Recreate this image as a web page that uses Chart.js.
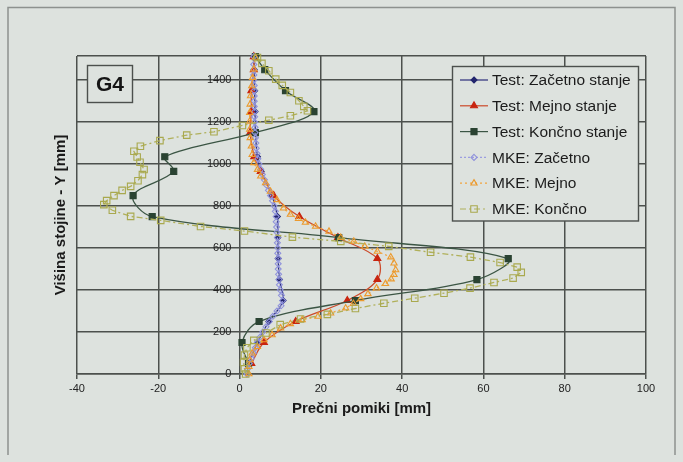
<!DOCTYPE html>
<html>
<head>
<meta charset="utf-8">
<script src="https://cdn.jsdelivr.net/npm/chart.js@4.4.1/dist/chart.umd.min.js"></script>
<style>
  body { margin: 0; background: #dde2de; }
  #okvir { position: relative; width: 683px; height: 462px; }
</style>
</head>
<body>
<div id="okvir"><canvas id="graf" width="683" height="462"></canvas></div>
<script>
// visine merilnih tock [mm]
var testVisine = [50, 150, 250, 350, 450, 550, 650, 750, 850, 965, 1035, 1150, 1250, 1350, 1450, 1512];
var testZacetno = [2.3, 4.4, 7.2, 10.7, 9.8, 9.5, 9.4, 9.3, 8.0, 5.3, 4.4, 3.9, 3.8, 3.7, 3.6, 3.5];
var testMejno = [2.9, 6.0, 13.8, 26.5, 33.9, 33.9, 24.2, 14.7, 8.4, 5.2, 3.6, 2.6, 2.9, 2.9, 3.5, 3.5];
var testKoncno = [2.2, 0.6, 4.8, 28.5, 58.4, 66.1, 24.4, -21.5, -26.2, -16.2, -18.4, 3.9, 18.3, 11.3, 6.2, 3.9];

// MKE - racunski rezultati
var mkeZacetnoY = [0, 25, 50, 75, 100, 125, 150, 175, 200, 225, 250, 275, 300, 325, 350, 375, 400, 425, 450, 475, 500,
  525, 550, 575, 600, 625, 650, 675, 700, 725, 750, 775, 800, 825, 850, 875, 900, 925, 950, 975, 1000,
  1025, 1050, 1075, 1100, 1125, 1150, 1175, 1200, 1225, 1250, 1275, 1300, 1325, 1350, 1375, 1400, 1425, 1450, 1475, 1512];
var mkeZacetnoX = [1.8, 2.0, 2.4, 2.9, 3.4, 3.9, 4.4, 5.0, 5.7, 6.5, 7.3, 8.2, 9.2, 10.2, 10.6, 10.3, 10.0, 9.8, 9.7, 9.6, 9.5,
  9.5, 9.5, 9.4, 9.4, 9.3, 9.3, 9.2, 9.1, 9.0, 9.0, 8.8, 8.5, 8.1, 7.6, 7.1, 6.6, 6.1, 5.6, 5.2, 4.8,
  4.5, 4.3, 4.1, 4.0, 3.9, 3.8, 3.8, 3.7, 3.7, 3.7, 3.6, 3.6, 3.6, 3.6, 3.6, 3.5, 3.5, 3.5, 3.5, 3.5];

var mkeMejnoY = [0, 35, 67, 99, 130, 162, 186, 218, 239, 258, 274, 290, 314, 335, 358, 382, 409, 430, 452, 473, 496,
  528, 557, 584, 608, 632, 650, 679, 703, 722, 740, 760, 790, 830, 870, 910, 942, 974, 1006, 1045, 1085,
  1125, 1165, 1204, 1245, 1285, 1325, 1372, 1412, 1452, 1508];
var mkeMejnoX = [2.3, 2.3, 2.5, 3.1, 4.4, 6.0, 8.0, 10.1, 12.5, 15.4, 19.3, 22.4, 26.1, 28.0, 29.8, 31.6, 33.7, 35.9, 37.3, 38.0, 38.4,
  38.0, 37.2, 33.9, 30.8, 28.1, 24.9, 22.0, 18.7, 16.2, 14.5, 12.5, 10.8, 9.2, 7.6, 6.4, 5.2, 4.4, 3.5, 3.1, 2.9,
  2.6, 2.5, 2.5, 2.5, 2.6, 2.7, 3.0, 3.2, 3.5, 3.9];

var mkeKoncnoY = [0, 25, 55, 90, 125, 160, 195, 235, 262, 284, 312, 337, 361, 385, 409, 436, 457, 484, 509, 531, 557,
  580, 608, 632, 652, 681, 703, 732, 751, 780, 807, 826, 850, 875, 894, 921, 950, 974, 1009, 1034, 1061,
  1085, 1112, 1138, 1154, 1184, 1209, 1230, 1254, 1275, 1302, 1341, 1375, 1405, 1445, 1480, 1508];
var mkeKoncnoX = [1.5, 1.2, 1.0, 1.2, 1.8, 3.5, 6.5, 10.0, 15.0, 21.6, 28.5, 35.5, 43.1, 50.3, 56.7, 62.6, 67.3, 69.3, 68.3, 64.1, 56.8,
  47.0, 36.7, 24.9, 13.0, 1.2, -9.6, -19.4, -26.8, -31.3, -33.4, -32.7, -30.9, -28.9, -26.8, -25.0, -23.9, -23.5, -24.5, -25.2, -26.0,
  -24.4, -19.6, -13.0, -6.3, 0.7, 7.2, 12.5, 16.7, 15.8, 14.6, 12.5, 10.5, 8.9, 7.2, 5.5, 4.4];

var oznakeY = [0, 200, 400, 600, 800, 1000, 1200, 1400];
var vrhY = 1515;
var imena = ['Test: Začetno stanje', 'Test: Mejno stanje', 'Test: Končno stanje', 'MKE: Začetno', 'MKE: Mejno', 'MKE: Končno'];

var ozadjeBarva = '#dde2de';
var mrezaBarva = '#4c504d';

function tocke(xs, ys) {
  return xs.map(function (v, i) { return { x: v, y: ys[i] }; });
}

function serija(ime, podatki, barva, tockaBarva, polna, oblika, r, crtkano, napetost, vrstni) {
  return {
    label: ime,
    data: podatki,
    showLine: true,
    borderColor: barva,
    borderWidth: 1.3,
    borderDash: crtkano,
    tension: napetost,
    pointStyle: oblika,
    pointRadius: r,
    pointHoverRadius: r,
    pointBorderColor: tockaBarva,
    pointBackgroundColor: polna ? tockaBarva : 'rgba(0,0,0,0)',
    pointBorderWidth: 1.1,
    clip: false,
    order: vrstni
  };
}

var serije = [
  serija(imena[0], tocke(testZacetno, testVisine), '#2a2d7a', '#23266e', true, 'rectRot', 3, [], 0.35, 6),
  serija(imena[1], tocke(testMejno, testVisine), '#cc4a2a', '#c8240f', true, 'triangle', 4, [], 0.35, 5),
  serija(imena[2], tocke(testKoncno, testVisine), '#3b5544', '#2a4332', true, 'rect', 4.3, [], 0.35, 4),
  serija(imena[3], tocke(mkeZacetnoX, mkeZacetnoY), '#9b9de0', '#8f92dc', false, 'rectRot', 3, [2, 2], 0, 3),
  serija(imena[4], tocke(mkeMejnoX, mkeMejnoY), '#f2a43c', '#eb9a2e', false, 'triangle', 3.6, [2, 3], 0, 2),
  serija(imena[5], tocke(mkeKoncnoX, mkeKoncnoY), '#b0b05a', '#a9a94e', false, 'rect', 4.6, [6, 3, 2, 3], 0, 1)
];

function oznaka(c, oblika, x, y, r, ds) {
  c.beginPath();
  if (oblika === 'rectRot') {
    c.moveTo(x, y - r); c.lineTo(x + r, y); c.lineTo(x, y + r); c.lineTo(x - r, y); c.closePath();
  } else if (oblika === 'triangle') {
    c.moveTo(x, y - r); c.lineTo(x + r * 0.87, y + r * 0.5); c.lineTo(x - r * 0.87, y + r * 0.5); c.closePath();
  } else {
    var s = r * Math.SQRT1_2;
    c.rect(x - s, y - s, 2 * s, 2 * s);
  }
  c.setLineDash([]);
  c.fillStyle = ds.pointBackgroundColor;
  c.fill();
  c.lineWidth = ds.pointBorderWidth;
  c.strokeStyle = ds.pointBorderColor;
  c.stroke();
}

var ozadje = {
  id: 'ozadje',
  beforeDraw: function (chart) {
    var c = chart.ctx;
    c.save();
    c.fillStyle = ozadjeBarva;
    c.fillRect(0, 0, chart.width, chart.height);
    c.strokeStyle = '#8d918e';
    c.lineWidth = 1.5;
    c.beginPath();
    c.moveTo(8, 455); c.lineTo(8, 7.5); c.lineTo(675, 7.5); c.lineTo(675, 455);
    c.stroke();
    c.restore();
  }
};

// oznaka G4 in legenda v polju grafa
var legenda = {
  id: 'legenda',
  afterDatasetsDraw: function (chart) {
    var c = chart.ctx;
    c.save();
    c.fillStyle = ozadjeBarva;
    c.fillRect(87.5, 65.5, 45, 37);
    c.strokeStyle = mrezaBarva;
    c.lineWidth = 1.4;
    c.strokeRect(87.5, 65.5, 45, 37);
    c.fillStyle = '#151515';
    c.font = 'bold 21px "Liberation Sans", Arial, sans-serif';
    c.textAlign = 'center';
    c.textBaseline = 'middle';
    c.fillText('G4', 110, 85);

    c.fillStyle = ozadjeBarva;
    c.fillRect(452.5, 66.5, 186, 154.5);
    c.strokeRect(452.5, 66.5, 186, 154.5);
    c.font = '15.5px "Liberation Sans", Arial, sans-serif';
    c.textAlign = 'left';
    chart.data.datasets.forEach(function (ds, i) {
      var y = 80 + 25.8 * i;
      c.beginPath();
      c.setLineDash(ds.borderDash);
      c.strokeStyle = ds.borderColor;
      c.lineWidth = 1.2;
      c.moveTo(460, y); c.lineTo(488, y);
      c.stroke();
      oznaka(c, ds.pointStyle, 474, y, ds.pointRadius, ds);
      c.fillStyle = '#1c1c1c';
      c.fillText(ds.label, 492, y + 1);
    });
    c.restore();
  }
};

Chart.defaults.font.family = '"Liberation Sans", Arial, sans-serif';

var graf = new Chart(document.getElementById('graf').getContext('2d'), {
  type: 'scatter',
  data: { datasets: serije },
  plugins: [ozadje, legenda],
  options: {
    responsive: false,
    animation: false,
    layout: { padding: { left: 0, top: 56, right: 37, bottom: 0 } },
    plugins: { legend: { display: false }, tooltip: { enabled: false } },
    scales: {
      x: {
        type: 'linear',
        min: -40,
        max: 100,
        ticks: { stepSize: 20, color: '#222', font: { size: 11 }, padding: 3 },
        grid: { color: mrezaBarva, lineWidth: 1.5, tickLength: 5, tickColor: mrezaBarva },
        border: { color: mrezaBarva, width: 1.5 },
        title: { display: true, text: 'Prečni pomiki [mm]', color: '#1a1a1a', font: { size: 15, weight: 'bold' }, padding: { top: 0, bottom: 44 } },
        afterFit: function (s) { s.height = 88; }
      },
      // oznake osi Y tik levo od x = 0
      y: {
        type: 'linear',
        position: { x: -2 },
        min: 0,
        max: vrhY,
        afterBuildTicks: function (s) {
          s.ticks = oznakeY.concat([vrhY]).map(function (v) { return { value: v }; });
        },
        ticks: {
          color: '#222',
          font: { size: 11 },
          callback: function (v) { return v === vrhY ? '' : v; }
        },
        grid: { color: mrezaBarva, lineWidth: 1.5, drawTicks: false },
        border: { display: false }
      },
      // samo za naslov osi Y
      naslovY: {
        axis: 'y',
        type: 'linear',
        position: 'left',
        ticks: { display: false },
        grid: { display: false },
        border: { display: false },
        title: { display: true, text: 'Višina stojine - Y [mm]', color: '#1a1a1a', font: { size: 15, weight: 'bold' }, padding: { top: 52, bottom: 0 } },
        afterFit: function (s) { s.width = 77; }
      }
    }
  }
});
</script>
</body>
</html>
